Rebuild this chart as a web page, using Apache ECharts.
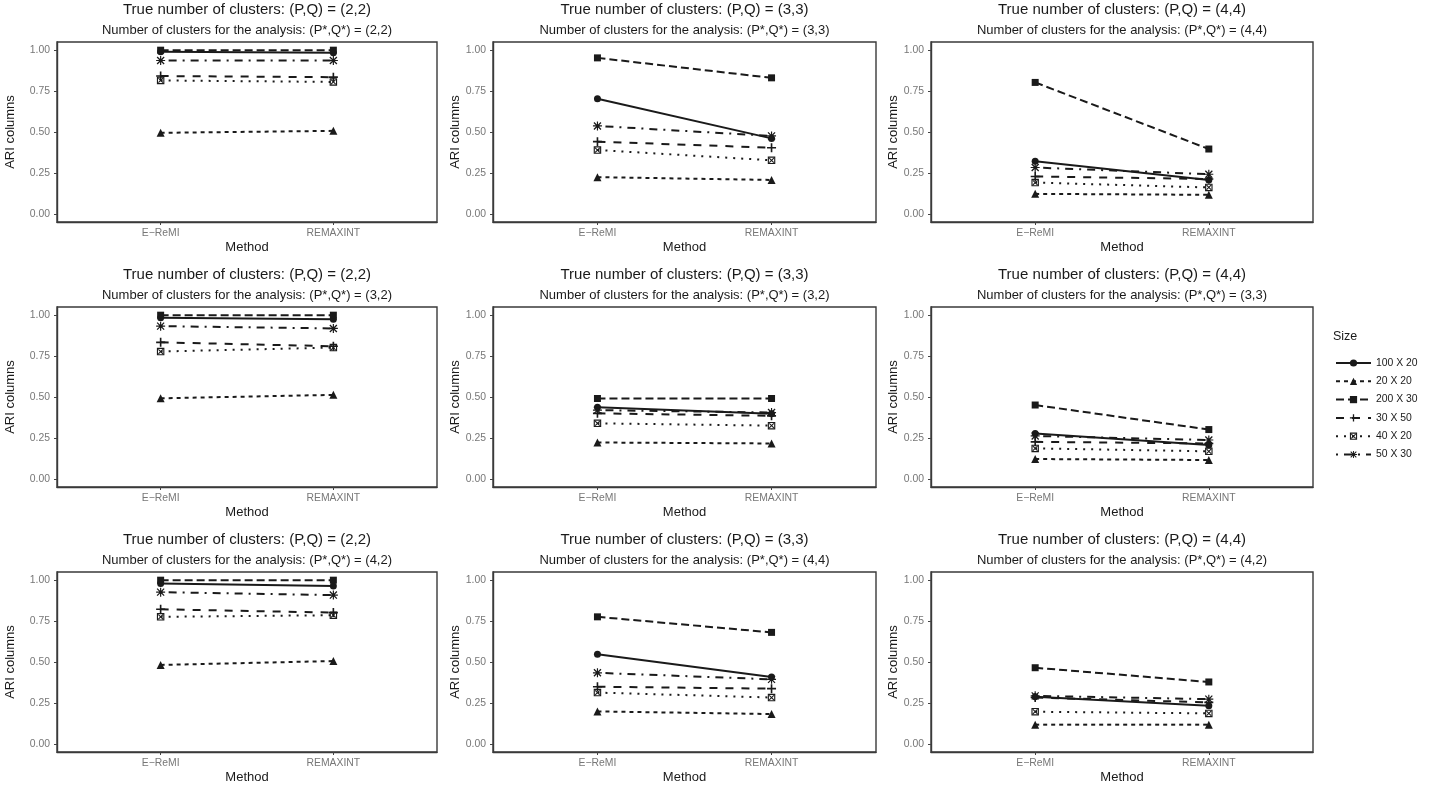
<!DOCTYPE html>
<html><head><meta charset="utf-8">
<script src="https://cdn.jsdelivr.net/npm/echarts@6/dist/echarts.min.js"></script>
<style>html,body{margin:0;padding:0;background:#fff}#c{width:1430px;height:787px}</style>
</head><body><div id="c"></div>
<script>
// ---------- data ----------
const methods = ['E\u2212ReMI', 'REMAXINT'];
const sizes = ['100 X 20', '20 X 20', '200 X 30', '30 X 50', '40 X 20', '50 X 30'];
const trueClusters = ['(2,2)', '(3,3)', '(4,4)', '(2,2)', '(3,3)', '(4,4)', '(2,2)', '(3,3)', '(4,4)'];
const analysisClusters = ['(2,2)', '(3,3)', '(4,4)', '(3,2)', '(3,2)', '(3,3)', '(4,2)', '(4,4)', '(4,2)'];
const yTicks = [0, 0.25, 0.5, 0.75, 1];
// each row: one size, [E-ReMI, REMAXINT]
const panel1 = [[0.99, 0.985], [0.495, 0.507], [1.00, 1.00], [0.842, 0.835], [0.815, 0.806], [0.937, 0.937]];
const panel2 = [[0.703, 0.461], [0.224, 0.207], [0.953, 0.831], [0.441, 0.404], [0.390, 0.327], [0.537, 0.476]];
const panel3 = [[0.321, 0.207], [0.122, 0.116], [0.803, 0.396], [0.228, 0.213], [0.191, 0.161], [0.283, 0.242]];
const panel4 = [[0.985, 0.975], [0.492, 0.513], [1.00, 1.00], [0.834, 0.810], [0.778, 0.802], [0.933, 0.919]];
const panel5 = [[0.438, 0.398], [0.222, 0.216], [0.491, 0.491], [0.400, 0.385], [0.339, 0.325], [0.420, 0.405]];
const panel6 = [[0.277, 0.206], [0.121, 0.115], [0.451, 0.301], [0.226, 0.216], [0.186, 0.168], [0.262, 0.237]];
const panel7 = [[0.980, 0.964], [0.482, 0.506], [1.00, 1.00], [0.822, 0.802], [0.776, 0.786], [0.927, 0.909]];
const panel8 = [[0.547, 0.408], [0.198, 0.182], [0.776, 0.681], [0.349, 0.337], [0.313, 0.283], [0.434, 0.394]];
const panel9 = [[0.287, 0.232], [0.117, 0.117], [0.465, 0.378], [0.283, 0.253], [0.196, 0.186], [0.293, 0.273]];

// ---------- layout & style ----------
const panels = [panel1, panel2, panel3, panel4, panel5, panel6, panel7, panel8, panel9];
const colLeft = [57, 493, 931], colWidth = [380, 383, 382];
const rowTop = [42, 307, 572], boxH = 180;
const yNameGap = [40, 30, 30];
const FONT = '"Liberation Sans", Arial, Helvetica, sans-serif';
const INK = '#1a1a1a';
const TICKTXT = '#777';
const plusPath = 'path://M4.1,0 H5.9 V4.1 H10 V5.9 H5.9 V10 H4.1 V5.9 H0 V4.1 H4.1 Z';
const boxXPath = 'path://M0,0 H10 V10 H0 Z M1.5,1.5 V8.5 H8.5 V1.5 Z M1.5,2.5 L2.5,1.5 L8.5,7.5 L7.5,8.5 Z M7.5,1.5 L8.5,2.5 L2.5,8.5 L1.5,7.5 Z';
const starPath = 'path://M4.35,0 H5.65 V4.35 H10 V5.65 H5.65 V10 H4.35 V5.65 H0 V4.35 H4.35 Z M1.6,0.6 L9.4,8.4 L8.4,9.4 L0.6,1.6 Z M8.4,0.6 L9.4,1.6 L1.6,9.4 L0.6,8.4 Z';
const symbols = ['circle', 'triangle', 'rect', plusPath, boxXPath, starPath];
const symSizes = [7, 8, 7, 9, 7.5, 9];
const dashes = ['solid', [4, 4], [8, 4], [8, 8], [2, 6], [2, 6, 8, 6]];

const grids = [], xAxes = [], yAxes = [], series = [], graphics = [];
panels.forEach((pv, i) => {
  const r = Math.floor(i / 3), c = i % 3;
  const left = colLeft[c], width = colWidth[c], top = rowTop[r];
  grids.push({ left: left, top: top, width: width, height: boxH, show: true, borderColor: '#3a3a3a', borderWidth: 1.4, containLabel: false });
  xAxes.push({
    type: 'value', gridIndex: i, min: 0.4, max: 2.6,
    axisLine: { show: true, onZero: false, lineStyle: { color: '#3a3a3a', width: 1.4 } },
    axisTick: { show: true, customValues: [1, 2], length: 3, lineStyle: { color: '#444' } },
    axisLabel: { customValues: [1, 2], formatter: v => methods[Math.round(v) - 1], color: TICKTXT, fontSize: 10.4, fontFamily: FONT, margin: 6 },
    splitLine: { show: false },
    name: 'Method', nameLocation: 'middle', nameGap: 18.5,
    nameTextStyle: { fontSize: 13, color: INK, fontFamily: FONT }
  });
  yAxes.push({
    type: 'value', gridIndex: i, min: -0.05, max: 1.05,
    axisLine: { show: true, onZero: false, lineStyle: { color: '#3a3a3a', width: 1.4 } },
    axisTick: { show: true, customValues: yTicks, length: 3, lineStyle: { color: '#444' } },
    axisLabel: { customValues: yTicks, formatter: v => v.toFixed(2), color: TICKTXT, fontSize: 10.4, fontFamily: FONT, margin: 7 },
    splitLine: { show: false },
    name: 'ARI columns', nameLocation: 'middle', nameGap: yNameGap[c], nameRotate: 90,
    nameTextStyle: { fontSize: 13, color: INK, fontFamily: FONT }
  });
  const cx = left + width / 2;
  graphics.push({ type: 'text', x: cx, y: top - 32.5, style: { text: 'True number of clusters: (P,Q) = ' + trueClusters[i], font: '15px ' + FONT, fill: INK, textAlign: 'center', textVerticalAlign: 'middle' } });
  graphics.push({ type: 'text', x: cx, y: top - 12, style: { text: 'Number of clusters for the analysis: (P*,Q*) = ' + analysisClusters[i], font: '13px ' + FONT, fill: INK, textAlign: 'center', textVerticalAlign: 'middle' } });
  sizes.forEach((s, k) => {
    series.push({
      type: 'line', name: s, xAxisIndex: i, yAxisIndex: i,
      data: methods.map((m, j) => [j + 1, pv[k][j]]),
      symbol: symbols[k], symbolSize: symSizes[k], showSymbol: true, showAllSymbol: true,
      lineStyle: { color: INK, width: 2, type: dashes[k], cap: 'butt' },
      itemStyle: { color: INK },
      emphasis: { disabled: true }, clip: false, z: 2 + k, animation: false
    });
  });
});
graphics.push({ type: 'text', x: 1333, y: 337, style: { text: 'Size', font: '12.5px ' + FONT, fill: INK, textAlign: 'left', textVerticalAlign: 'middle' } });

const chart = echarts.init(document.getElementById('c'), null, { renderer: 'canvas' });
chart.setOption({
  backgroundColor: '#fff',
  animation: false,
  textStyle: { fontFamily: FONT },
  grid: grids, xAxis: xAxes, yAxis: yAxes, series: series,
  legend: {
    data: sizes, orient: 'vertical', left: 1335, top: 358, padding: 0,
    itemWidth: 35, itemHeight: 9, itemGap: 8.3, selectedMode: false,
    textStyle: { fontSize: 10.4, color: INK, fontFamily: FONT }
  },
  graphic: graphics
});
</script>
</body></html>
